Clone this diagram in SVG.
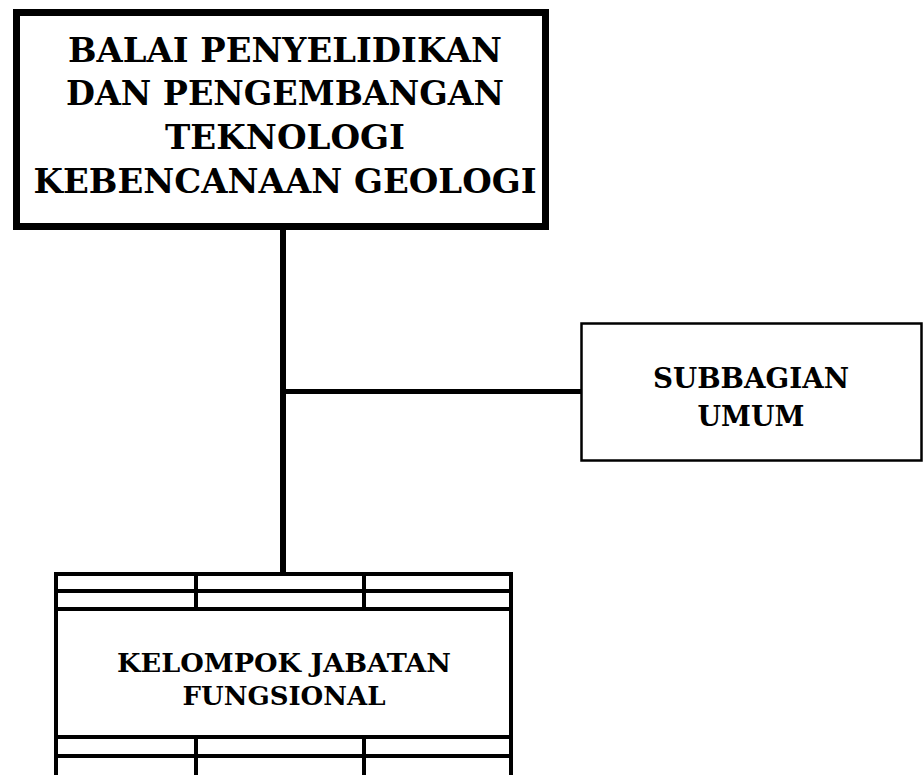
<svg xmlns="http://www.w3.org/2000/svg" width="923" height="775" viewBox="0 0 923 775">
<style>
text{font-family:"DejaVu Serif","Liberation Serif",serif;font-weight:bold;fill:#000;text-anchor:middle}
.box{fill:#fff;stroke:#000}
.ln{stroke:#000;fill:none}
</style>
<rect width="923" height="775" fill="#fff"/>
<g id="connectors">
<line class="ln" x1="283" y1="229" x2="283" y2="573" stroke-width="6"/>
<line class="ln" x1="280" y1="391.5" x2="581" y2="391.5" stroke-width="5"/>
</g>
<g id="balai">
<rect class="box" x="16.5" y="12.5" width="529" height="214" stroke-width="7"/>
<text x="285" y="62" font-size="33" textLength="434" lengthAdjust="spacingAndGlyphs">BALAI PENYELIDIKAN</text>
<text x="285" y="105" font-size="33" textLength="438" lengthAdjust="spacingAndGlyphs">DAN PENGEMBANGAN</text>
<text x="285" y="149" font-size="33" textLength="240" lengthAdjust="spacingAndGlyphs">TEKNOLOGI</text>
<text x="285" y="193" font-size="33" textLength="503" lengthAdjust="spacingAndGlyphs">KEBENCANAAN GEOLOGI</text>
</g>
<g id="subbagian">
<rect class="box" x="581.5" y="323.5" width="340" height="137" stroke-width="2.5"/>
<text x="751" y="388" font-size="27" textLength="196" lengthAdjust="spacingAndGlyphs">SUBBAGIAN</text>
<text x="751" y="426" font-size="27">UMUM</text>
</g>
<g id="kelompok">
<rect class="box" x="56" y="574" width="455" height="210" stroke-width="4"/>
<line class="ln" x1="56" y1="591" x2="511" y2="591" stroke-width="4"/>
<line class="ln" x1="56" y1="609" x2="511" y2="609" stroke-width="4"/>
<line class="ln" x1="56" y1="737" x2="511" y2="737" stroke-width="4"/>
<line class="ln" x1="56" y1="756" x2="511" y2="756" stroke-width="4"/>
<line class="ln" x1="196" y1="574" x2="196" y2="609" stroke-width="4"/>
<line class="ln" x1="364" y1="574" x2="364" y2="609" stroke-width="4"/>
<line class="ln" x1="196" y1="737" x2="196" y2="775" stroke-width="4"/>
<line class="ln" x1="364" y1="737" x2="364" y2="775" stroke-width="4"/>
<text x="284" y="672" font-size="26" textLength="334" lengthAdjust="spacingAndGlyphs">KELOMPOK JABATAN</text>
<text x="284" y="705" font-size="26">FUNGSIONAL</text>
</g>
</svg>
